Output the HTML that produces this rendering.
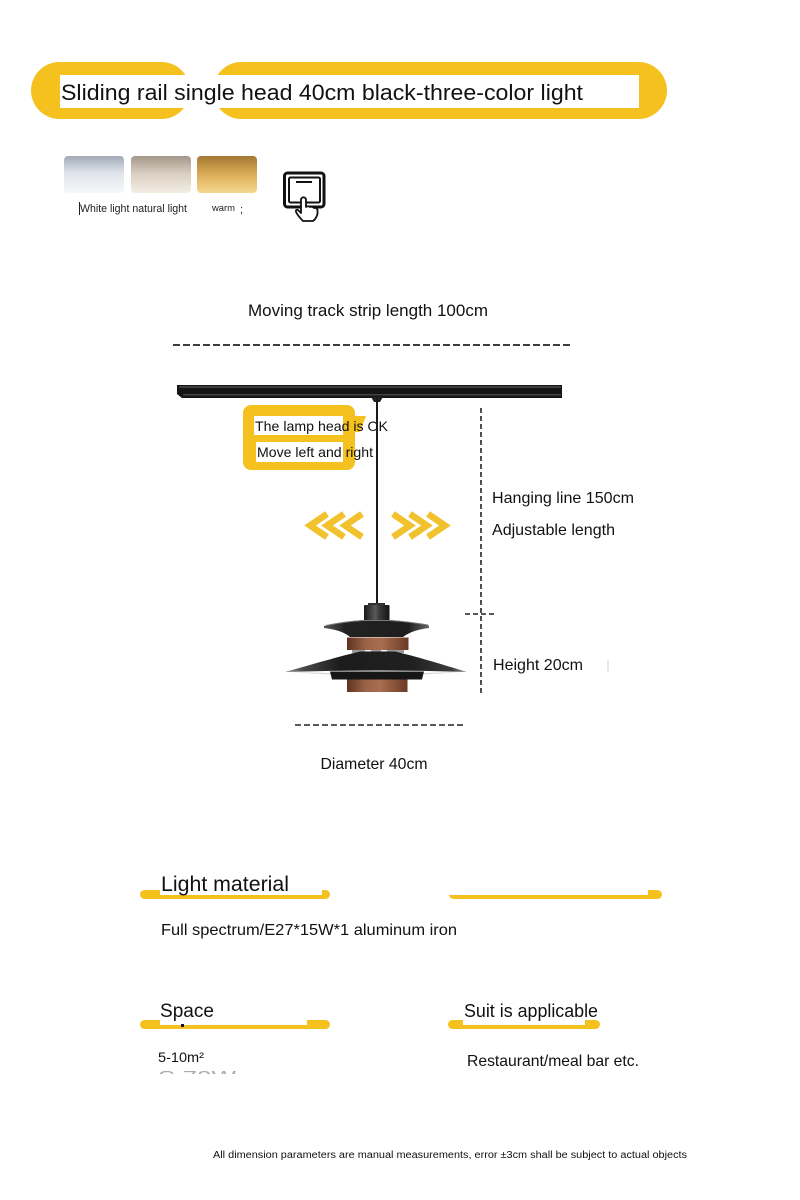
<!DOCTYPE html>
<html>
<head>
<meta charset="utf-8">
<style>
  html, body { margin:0; padding:0; background:#fff; }
  svg { display:block; }
</style>
</head>
<body>
<svg xmlns="http://www.w3.org/2000/svg" width="800" height="1200" viewBox="0 0 800 1200" font-family="'Liberation Sans', Arial, sans-serif">
  <defs>
    <linearGradient id="sw1" x1="0" y1="0" x2="0" y2="1">
      <stop offset="0" stop-color="#a2aab6"/>
      <stop offset="0.45" stop-color="#dfe4ea"/>
      <stop offset="1" stop-color="#f6f8fa"/>
    </linearGradient>
    <linearGradient id="sw2" x1="0" y1="0" x2="0" y2="1">
      <stop offset="0" stop-color="#a4978a"/>
      <stop offset="0.5" stop-color="#dbd1c3"/>
      <stop offset="1" stop-color="#f3ede2"/>
    </linearGradient>
    <linearGradient id="sw3" x1="0" y1="0" x2="0" y2="1">
      <stop offset="0" stop-color="#a57832"/>
      <stop offset="0.5" stop-color="#dcad57"/>
      <stop offset="1" stop-color="#f4d88e"/>
    </linearGradient>
    <linearGradient id="wood" x1="0" y1="0" x2="1" y2="0">
      <stop offset="0" stop-color="#5e3322"/>
      <stop offset="0.3" stop-color="#9a6246"/>
      <stop offset="0.55" stop-color="#a86e50"/>
      <stop offset="1" stop-color="#6a3a26"/>
    </linearGradient>
    <linearGradient id="cap" x1="0" y1="0" x2="1" y2="0">
      <stop offset="0" stop-color="#1a1a1a"/>
      <stop offset="0.45" stop-color="#5a5a5a"/>
      <stop offset="0.6" stop-color="#3a3a3a"/>
      <stop offset="1" stop-color="#141414"/>
    </linearGradient>
    <linearGradient id="disk" x1="0" y1="0" x2="1" y2="0">
      <stop offset="0" stop-color="#9a9a9a"/>
      <stop offset="0.1" stop-color="#4a4a4a"/>
      <stop offset="0.3" stop-color="#1c1c1c"/>
      <stop offset="0.7" stop-color="#202020"/>
      <stop offset="0.92" stop-color="#3c3c3c"/>
      <stop offset="1" stop-color="#a0a0a0"/>
    </linearGradient>
    <linearGradient id="udisk" x1="0" y1="0" x2="1" y2="0">
      <stop offset="0" stop-color="#555"/>
      <stop offset="0.2" stop-color="#222"/>
      <stop offset="0.8" stop-color="#1e1e1e"/>
      <stop offset="1" stop-color="#666"/>
    </linearGradient>
    <clipPath id="cut"><rect x="150" y="1068" width="120" height="6"/></clipPath>
  </defs>

  <rect width="800" height="1200" fill="#fff"/>

  <!-- Title banner -->
  <rect x="31" y="62" width="159" height="57" rx="28.5" fill="#f4c11f"/>
  <rect x="213" y="62" width="454" height="57" rx="28.5" fill="#f4c11f"/>
  <rect x="60" y="75" width="579" height="33" fill="#fff"/>
  <text x="61" y="100" font-size="22" fill="#111" textLength="522" lengthAdjust="spacingAndGlyphs">Sliding rail single head 40cm black-three-color light</text>

  <!-- Swatches -->
  <rect x="64" y="156" width="60" height="37" rx="4" fill="url(#sw1)"/>
  <rect x="131" y="156" width="60" height="37" rx="4" fill="url(#sw2)"/>
  <rect x="197" y="156" width="60" height="37" rx="4" fill="url(#sw3)"/>
  <line x1="79.5" y1="202" x2="79.5" y2="215" stroke="#222" stroke-width="1"/>
  <text x="80" y="212" font-size="11" fill="#222" textLength="107" lengthAdjust="spacingAndGlyphs">White light natural light</text>
  <text x="212" y="211" font-size="9" fill="#222" textLength="23" lengthAdjust="spacingAndGlyphs">warm</text>
  <text x="240" y="213" font-size="11" fill="#222">;</text>

  <!-- Switch icon -->
  <rect x="284.5" y="173" width="39.5" height="34" rx="3" fill="#fff" stroke="#111" stroke-width="3"/>
  <rect x="289" y="177.5" width="31" height="25" rx="1.5" fill="#fff" stroke="#111" stroke-width="2"/>
  <line x1="296" y1="182" x2="312" y2="182" stroke="#111" stroke-width="2"/>
  <path d="M301,213 L301,199 Q303.5,195.5 306,199 L306,207 Q308,205.5 310,207 Q312,206 314,208 Q316,207.5 317.5,209.5 L317.5,214 Q316,219 313,221 L303,221 Q298,216 296,212 Q295.5,209 298,210 Z" fill="#fff" stroke="#111" stroke-width="1.8" stroke-linejoin="round"/>

  <!-- Track length -->
  <text x="248" y="316" font-size="17" fill="#111" textLength="240" lengthAdjust="spacingAndGlyphs">Moving track strip length 100cm</text>
  <line x1="173" y1="345" x2="570" y2="345" stroke="#222" stroke-width="1.8" stroke-dasharray="7 3"/>

  <!-- Rail -->
  <path d="M177,385 L562,385 L562,398 L182,398 L177,394 Z" fill="#151515"/>
  <rect x="179" y="386" width="382" height="2" fill="#3c3c3c"/>
  <rect x="183" y="394" width="378" height="1.5" fill="#444"/>
  <path d="M371,397 L383,397 L380,402 L374,402 Z" fill="#222"/>

  <!-- Callout -->
  <rect x="243" y="405" width="112" height="65" rx="8" fill="#f4c11f"/>
  <polygon points="350,416 366,416 360,432 350,432" fill="#f4c11f"/>
  <rect x="254" y="416" width="89" height="19" fill="#fff"/>
  <rect x="256" y="442" width="87" height="20" fill="#fff"/>
  <text x="255" y="431" font-size="14" fill="#111" textLength="133" lengthAdjust="spacingAndGlyphs">The lamp head is OK</text>
  <text x="257" y="457" font-size="14" fill="#111" textLength="116" lengthAdjust="spacingAndGlyphs">Move left and right</text>

  <!-- Cord -->
  <line x1="377" y1="398" x2="377" y2="606" stroke="#1a1a1a" stroke-width="2"/>

  <!-- Chevrons -->
  <g fill="none" stroke="#f2c12e" stroke-width="6.5" stroke-linejoin="miter">
    <polyline points="327,514 310,525.5 327,537"/>
    <polyline points="344,514 327,525.5 344,537"/>
    <polyline points="362,514 345,525.5 362,537"/>
    <polyline points="393,514 410,525.5 393,537"/>
    <polyline points="410,514 427,525.5 410,537"/>
    <polyline points="428,514 445,525.5 428,537"/>
  </g>

  <!-- Hanging dimension -->
  <line x1="481" y1="408" x2="481" y2="693" stroke="#222" stroke-width="1.6" stroke-dasharray="5 3"/>
  <line x1="465" y1="614" x2="496" y2="614" stroke="#222" stroke-width="1.6" stroke-dasharray="5 3"/>
  <text x="492" y="503" font-size="16" fill="#111" textLength="142" lengthAdjust="spacingAndGlyphs">Hanging line 150cm</text>
  <text x="492" y="535" font-size="16" fill="#111" textLength="123" lengthAdjust="spacingAndGlyphs">Adjustable length</text>
  <text x="493" y="670" font-size="16" fill="#111" textLength="90" lengthAdjust="spacingAndGlyphs">Height 20cm</text>
  <line x1="608" y1="660" x2="608" y2="672" stroke="#ccc" stroke-width="1"/>

  <!-- Lamp -->
  <rect x="368" y="603" width="17" height="3" fill="#333"/>
  <rect x="364" y="605" width="25.5" height="17" rx="1" fill="url(#cap)"/>
  <path d="M324,626 Q345,621 364,620 L389,620 Q408,621 429,625.5 L429,628 Q412,630 403,637 L350,637 Q342,630 324,628 Z" fill="url(#udisk)"/>
  <path d="M326,625.5 Q345,621.5 364,620.5 L389,620.5 Q408,621.5 428,625" fill="none" stroke="#7a7a7a" stroke-width="1"/>
  <rect x="347" y="637.5" width="61.5" height="12.5" fill="url(#wood)"/>
  <rect x="352" y="650" width="52" height="3" fill="#9a9a9a"/>
  <rect x="365" y="650" width="6" height="2.5" fill="#eee"/>
  <rect x="381" y="650" width="6" height="2.5" fill="#eee"/>
  <path d="M285,672 C320,662 345,655 360,651.5 L395,651.5 C410,655 435,662 467,672 Q376,669 285,672 Z" fill="url(#disk)"/>
  <path d="M290,672 Q376,679 462,672 Q376,675 290,672 Z" fill="#d8d8d8"/>
  <path d="M330,671.5 L424,671.5 L422,679.5 L332,679.5 Z" fill="#161616"/>
  <rect x="347" y="679.5" width="60.5" height="12.5" fill="url(#wood)"/>

  <!-- Diameter -->
  <line x1="295" y1="725" x2="465" y2="725" stroke="#222" stroke-width="1.6" stroke-dasharray="6 3"/>
  <text x="320.5" y="769" font-size="16" fill="#111" textLength="107" lengthAdjust="spacingAndGlyphs">Diameter 40cm</text>

  <!-- Light material -->
  <rect x="140" y="890" width="190" height="9" rx="4.5" fill="#f4c11f"/>
  <rect x="160" y="880" width="162" height="15" fill="#fff"/>
  <rect x="449" y="890" width="213" height="9" rx="4.5" fill="#f4c11f"/>
  <rect x="446" y="885" width="202" height="10" fill="#fff"/>
  <text x="161" y="891" font-size="21" fill="#111" textLength="128" lengthAdjust="spacingAndGlyphs">Light material</text>
  <text x="161" y="935" font-size="16" fill="#111" textLength="296" lengthAdjust="spacingAndGlyphs">Full spectrum/E27*15W*1 aluminum  iron</text>

  <!-- Space -->
  <rect x="140" y="1020" width="190" height="9" rx="4.5" fill="#f4c11f"/>
  <rect x="160" y="1012" width="147" height="13" fill="#fff"/>
  <rect x="181" y="1024" width="3" height="3" fill="#111"/>
  <text x="160" y="1017" font-size="19" fill="#111" textLength="54" lengthAdjust="spacingAndGlyphs">Space</text>
  <text x="158" y="1062" font-size="14" fill="#111" textLength="46" lengthAdjust="spacingAndGlyphs">5-10m²</text>
  <text x="158" y="1082" font-size="16" fill="#aaa" clip-path="url(#cut)" textLength="78" lengthAdjust="spacingAndGlyphs">S  70W</text>

  <!-- Suit is applicable -->
  <rect x="448" y="1020" width="152" height="9" rx="4.5" fill="#f4c11f"/>
  <rect x="463" y="1012" width="122" height="13" fill="#fff"/>
  <text x="464" y="1017" font-size="18" fill="#111" textLength="134" lengthAdjust="spacingAndGlyphs">Suit is applicable</text>
  <text x="467" y="1066" font-size="16" fill="#111" textLength="172" lengthAdjust="spacingAndGlyphs">Restaurant/meal bar etc.</text>

  <!-- Footer -->
  <text x="213" y="1158" font-size="10" fill="#111" textLength="474" lengthAdjust="spacingAndGlyphs">All dimension parameters are manual measurements, error ±3cm shall be subject to actual objects</text>
</svg>
</body>
</html>
